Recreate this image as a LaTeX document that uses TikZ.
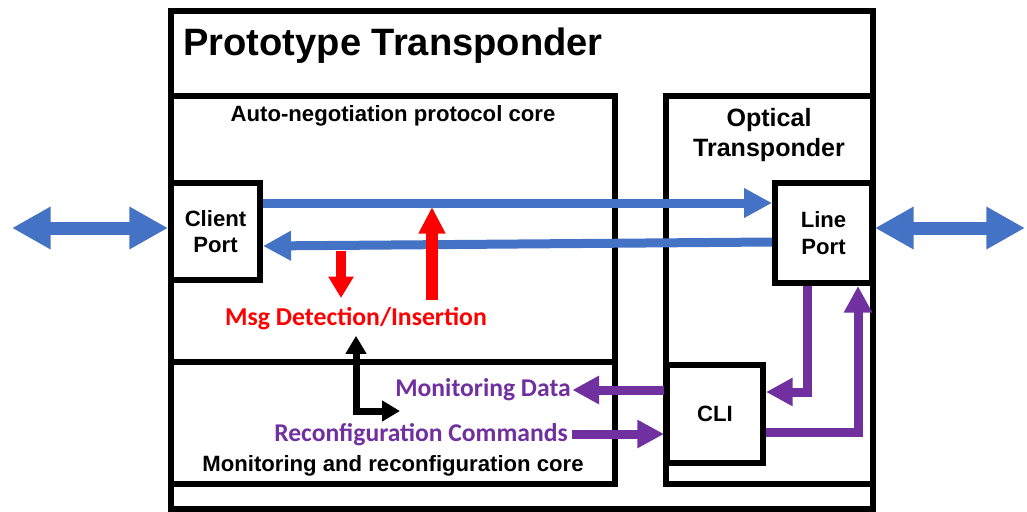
\documentclass[tikz,border=0pt]{standalone}
\usepackage{fontspec}
\setmainfont{Liberation Sans}
\newfontfamily\calfont{Carlito}
\usetikzlibrary{arrows.meta}
\definecolor{myblue}{HTML}{4472C4}
\definecolor{myred}{HTML}{FF0000}
\definecolor{mypurple}{HTML}{7030A0}
\begin{document}
\begin{tikzpicture}[x=0.75pt,y=-0.75pt,
  frame/.style={draw=black, line width=4.5pt},
  portbox/.style={frame, fill=white, inner sep=0pt, align=center,
    font=\bfseries\fontsize{16.6}{20}\selectfont},
  btext/.style={inner sep=0pt, align=center, font=\bfseries\fontsize{16.6}{20}\selectfont},
  plabel/.style={inner sep=0pt, text=mypurple, font=\calfont\bfseries\fontsize{19.2}{23}\selectfont},
  bluearrow/.style={draw=myblue, line width=6.75pt, -{Triangle[length=21pt,width=21pt]}},
  dblarrow/.style={draw=myblue, line width=9.75pt, {Triangle[length=29pt,width=30pt]}-{Triangle[length=29pt,width=30pt]}},
  redarrow/.style={draw=myred, line width=7pt, -{Triangle[length=16pt,width=18pt]}},
  purparrow/.style={draw=mypurple, line width=6.75pt, -{Triangle[length=20pt,width=20pt]}},
  blkarrow/.style={draw=black, line width=5.25pt, {Triangle[length=13.5pt,width=15pt]}-{Triangle[length=13.5pt,width=15pt]}}
]
\useasboundingbox (0,0) rectangle (1027,511);

% outer frame and sections
\node[frame, minimum width=526.5pt, minimum height=373.5pt, inner sep=0pt] (outer) at (522,260) {};
\node[frame, minimum width=333pt, minimum height=291pt, inner sep=0pt] (an) at (393,290) {};
\node[frame, minimum width=155.25pt, minimum height=291pt, inner sep=0pt] (ot) at (769.5,290) {};
\coordinate (divrow) at (0,362);
\draw[frame] (an.west |- divrow) -- (an.east |- divrow);

% titles
\node[inner sep=0pt, anchor=base west, font=\bfseries\fontsize{28.6}{34}\selectfont] (title) at (183,55) {Prototype Transponder};
\node[btext] (antitle) at (393,116) {Auto-negotiation protocol core};
\node[btext, font=\bfseries\fontsize{18.8}{23}\selectfont] (ottitle) at (769,135) {Optical\\Transponder};
\node[btext] (mrtitle) at (393,466) {Monitoring and reconfiguration core};

% port boxes
\node[portbox, minimum width=66.75pt, minimum height=72.75pt] (cp) at (215.5,231.5) {Client\\Port};
\node[portbox, minimum width=72.75pt, minimum height=75pt] (lp) at (823.5,233) {Line\\Port};
\node[portbox, minimum width=72pt, minimum height=73.5pt] (cli) at (715,414) {CLI};

% blue arrows
\coordinate (toprow) at (0,203);
\coordinate (brow1) at (0,242);
\coordinate (brow2) at (0,246);
\draw[bluearrow] (cp.east |- toprow) -- (lp.west |- toprow);
\draw[bluearrow] (lp.west |- brow1) -- (cp.east |- brow2);
\coordinate (lend) at (12,228);
\coordinate (rend) at (1025,228);
\draw[dblarrow] (lend) -- (cp.west |- lend);
\draw[dblarrow] (lp.east |- rend) -- (rend);

% red
\node[inner sep=0pt, text=myred, font=\calfont\bfseries\fontsize{19.3}{23}\selectfont] (msg) at (356,319) {Msg Detection/Insertion};
\coordinate (rd1) at (341,251);
\coordinate (rd2) at (341,298);
\coordinate (ru1) at (432,300);
\coordinate (ru2) at (432,207);
\draw[redarrow] (rd1) -- (rd2);
\draw[redarrow, line width=9pt, -{Triangle[length=20pt,width=19pt]}] (ru1) -- (ru2);

% black
\coordinate (blkend) at (400,411);
\draw[blkarrow] ([yshift=-4pt]msg.south) |- (blkend);

% purple
\node[plabel, anchor=east] (md) at (571,390) {Monitoring Data};
\node[plabel, anchor=east] (rc) at (568,435) {Reconfiguration Commands};
\draw[purparrow] (cli.west |- 0,390) -- ([xshift=1pt]md.east |- 0,390);
\draw[purparrow] ([xshift=3pt]rc.east |- 0,434) -- (cli.west |- 0,434);
\coordinate (pc1) at (807,392);
\coordinate (pc2) at (858,432);
\draw[purparrow] (lp.south -| pc1) |- (cli.east |- pc1);
\draw[purparrow] (cli.east |- pc2) -| (lp.south -| pc2);
\end{tikzpicture}
\end{document}
